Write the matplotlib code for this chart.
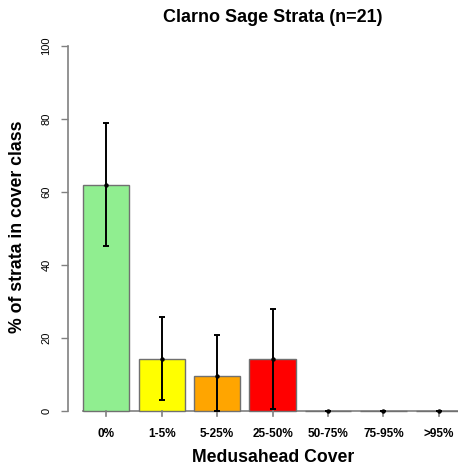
import numpy as np
import matplotlib.pyplot as plt

plt.rcParams['font.family'] = ['Liberation Sans', 'DejaVu Sans']

# Percent of strata in each medusahead cover class (n=21)
classes = ['0%', '1-5%', '5-25%', '25-50%', '50-75%', '75-95%', '>95%']
pct = [61.9, 14.3, 9.5, 14.3, 0, 0, 0]
upper = [78.8, 25.8, 20.9, 28.0, 0, 0, 0]
lower = [45.2, 2.9, 0.0, 0.6, 0, 0, 0]
colors = ['lightgreen', 'yellow', 'orange', 'red', 'white', 'white', 'white']

W, H = 458, 470
fig = plt.figure(figsize=(W / 100, H / 100), dpi=100)
ax = fig.add_axes([68 / W, (H - 425.6) / H, (W - 68) / W, (425.6 - 31.4) / H])

# R-style bar positions: width 1, space 0.2
x = 0.7 + 1.2 * np.arange(len(classes))
pct = np.array(pct)
err = [pct - np.array(lower), np.array(upper) - pct]

ax.bar(x, pct, width=1, color=colors, edgecolor='#707070', linewidth=1, zorder=2)
ax.errorbar(x, pct, yerr=err, fmt='o', color='black', ms=2.2, elinewidth=1.4,
            capsize=2, capthick=1.4, zorder=3)

ax.set_xlim(-0.128, 0.7 + (W - 106.3) / 46.2)
ax.set_ylim(-4, 104)
for s in ax.spines.values():
    s.set_visible(False)

# axis lines
ax.plot([-0.128, -0.128], [0, 100], color='#808080', lw=1.2, clip_on=False)
ax.axhline(0, xmin=(0.2 + 0.128) / (ax.get_xlim()[1] + 0.128), color='#808080', lw=1.2, zorder=1)

ax.set_yticks([0, 20, 40, 60, 80, 100])
ax.set_yticklabels(['0', '20', '40', '60', '80', '100'], rotation=90, va='center', fontsize=8)
ax.tick_params(axis='y', length=5, width=1, color='#808080', pad=7)

ax.set_xticks(x)
ax.set_xticklabels(classes, fontsize=8.5, fontweight='bold')
ax.tick_params(axis='x', length=0, pad=1.5)
for xi in x:
    ax.plot([xi, xi], [0, -1.5], color='#808080', lw=1.2, clip_on=False)

fig.text(273 / W, 1 - 18 / H, 'Clarno Sage Strata (n=21)', ha='center', va='center',
         fontsize=13, fontweight='bold')
fig.text(273 / W, 1 - 458 / H, 'Medusahead Cover', ha='center', va='center',
         fontsize=12.7, fontweight='bold')
fig.text(18 / W, 1 - 227 / H, '% of strata in cover class', ha='center', va='center',
         rotation=90, fontsize=12.7, fontweight='bold')

fig.savefig('out.png', dpi=100)
